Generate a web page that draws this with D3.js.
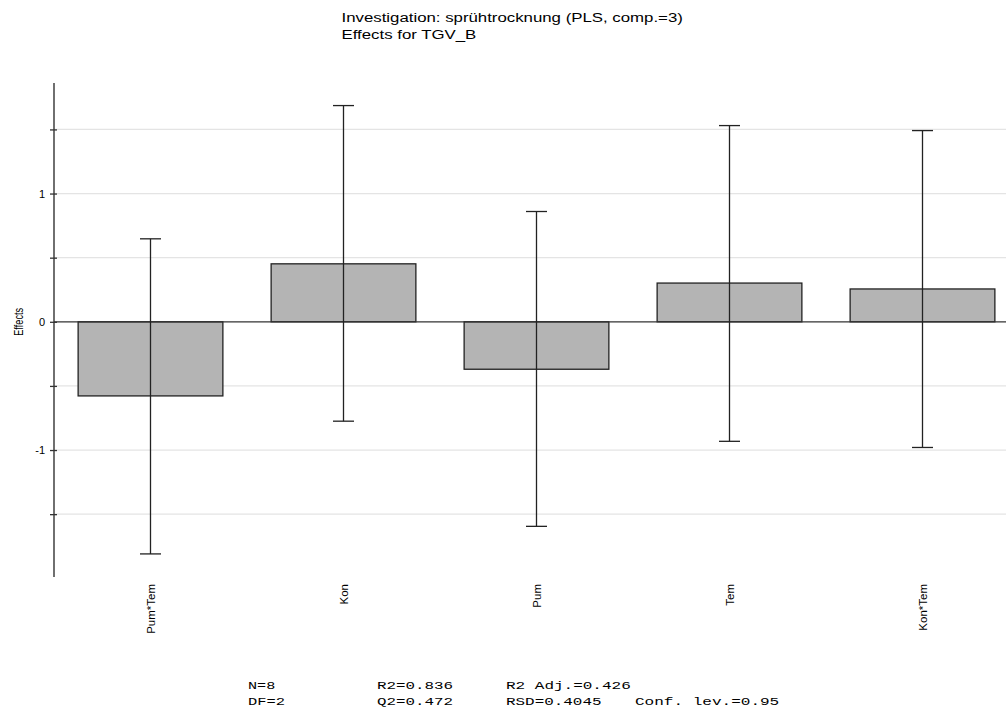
<!DOCTYPE html>
<html>
<head>
<meta charset="utf-8">
<script src="https://cdn.jsdelivr.net/npm/d3@7"></script>
<style>
  body { margin: 0; background: #fff; }
  svg { display: block; }
  text { font-family: "Liberation Sans", Arial, sans-serif; fill: #000; }
  .mono { font-family: "Liberation Mono", "Courier New", monospace; }
</style>
</head>
<body>
<div id="chart"></div>
<script>
const categories = ['Pum*Tem', 'Kon', 'Pum', 'Tem', 'Kon*Tem'];
const effects = [-0.578, 0.452, -0.370, 0.302, 0.256];
const ciLow = [-1.810, -0.775, -1.595, -0.932, -0.980];
const ciHigh = [0.647, 1.686, 0.860, 1.530, 1.491];

const majorTicks = [-1, 0, 1];
const minorTicks = [-1.5, -0.5, 0.5, 1.5];

const titleLines = ['Investigation: sprühtrocknung (PLS, comp.=3)', 'Effects for TGV_B'];
const statsRows = [
    ['N=8', 'R2=0.836', 'R2 Adj.=0.426'],
    ['DF=2', 'Q2=0.472', 'RSD=0.4045', 'Conf. lev.=0.95']
];

document.addEventListener('DOMContentLoaded', () => {
    const width = 1006, height = 711;
    const axisX = 54, top = 83, bottom = 577;

    const svg = d3.select('#chart').append('svg')
        .attr('width', width)
        .attr('height', height);

    const x = d3.scaleBand()
        .domain(categories)
        .range([axisX, 1019])
        .paddingInner(0.25)
        .paddingOuter(0.125);

    const y = d3.scaleLinear()
        .domain([-1.99, 1.862])
        .range([bottom, top]);

    // grid lines every 0.5
    svg.append('g').selectAll('line')
        .data(majorTicks.concat(minorTicks).filter(d => d !== 0))
        .enter().append('line')
        .attr('x1', axisX).attr('x2', width)
        .attr('y1', d => y(d)).attr('y2', d => y(d))
        .attr('stroke', '#e4e4e4')
        .attr('stroke-width', 1.3);

    // y axis
    const yAxis = d3.axisLeft(y)
        .tickValues(majorTicks.concat(minorTicks))
        .tickSize(4)
        .tickFormat(d => majorTicks.includes(d) ? d3.format('d')(d) : '');

    const axisG = svg.append('g')
        .attr('transform', `translate(${axisX},0)`)
        .call(yAxis);
    axisG.select('.domain').remove();
    axisG.selectAll('.tick line')
        .attr('x1', -4).attr('x2', 3)
        .attr('stroke', '#333').attr('stroke-width', 1.3);
    axisG.selectAll('.tick text')
        .attr('x', -9)
        .attr('dy', '0.35em')
        .style('font-size', '11px')
        .style('font-family', '"Liberation Sans", Arial, sans-serif')
        .text(d => majorTicks.includes(d) ? String(d).replace('−', '-') : '');

    svg.append('line')
        .attr('x1', axisX).attr('x2', axisX)
        .attr('y1', top).attr('y2', bottom)
        .attr('stroke', '#333').attr('stroke-width', 1.4);

    svg.append('text')
        .attr('transform', `translate(23,${y(0)}) rotate(-90)`)
        .attr('text-anchor', 'middle')
        .attr('textLength', 28)
        .attr('lengthAdjust', 'spacingAndGlyphs')
        .style('font-size', '12px')
        .text('Effects');

    // bars
    const data = categories.map((c, i) => ({ name: c, value: effects[i], lo: ciLow[i], hi: ciHigh[i] }));

    svg.append('g').selectAll('rect')
        .data(data)
        .enter().append('rect')
        .attr('x', d => x(d.name))
        .attr('width', x.bandwidth())
        .attr('y', d => y(Math.max(0, d.value)))
        .attr('height', d => Math.abs(y(d.value) - y(0)))
        .attr('fill', '#b4b4b4')
        .attr('stroke', '#222')
        .attr('stroke-width', 1.3);

    // zero line
    svg.append('line')
        .attr('x1', axisX).attr('x2', width)
        .attr('y1', y(0)).attr('y2', y(0))
        .attr('stroke', '#333').attr('stroke-width', 1.3);

    // error bars
    const err = svg.append('g').selectAll('g')
        .data(data)
        .enter().append('g')
        .attr('transform', d => `translate(${x(d.name) + x.bandwidth() / 2},0)`)
        .attr('stroke', '#222')
        .attr('stroke-width', 1.3);
    err.append('line')
        .attr('y1', d => y(d.lo)).attr('y2', d => y(d.hi));
    err.append('line')
        .attr('x1', -10.5).attr('x2', 10.5)
        .attr('y1', d => y(d.hi)).attr('y2', d => y(d.hi));
    err.append('line')
        .attr('x1', -10.5).attr('x2', 10.5)
        .attr('y1', d => y(d.lo)).attr('y2', d => y(d.lo));

    // category labels
    svg.append('g').selectAll('text')
        .data(categories)
        .enter().append('text')
        .attr('transform', d => `translate(${x(d) + x.bandwidth() / 2 + 4},584) rotate(-90)`)
        .attr('text-anchor', 'end')
        .style('font-size', '11.5px')
        .text(d => d);

    // title, stretched horizontally like the original
    svg.append('g').selectAll('text')
        .data(titleLines)
        .enter().append('text')
        .attr('x', 341.5)
        .attr('y', (d, i) => 22 + i * 17)
        .style('font-size', '12px')
        .text(d => d)
        .each(function () {
            const w = this.getComputedTextLength();
            d3.select(this).attr('textLength', w * 1.4).attr('lengthAdjust', 'spacingAndGlyphs');
        });

    // statistics block
    const colX = [248, 377, 506, 635];
    const charW = 9.75;
    statsRows.forEach((row, r) => {
        svg.append('g').selectAll('text')
            .data(row)
            .enter().append('text')
            .attr('class', 'mono')
            .attr('x', (d, i) => colX[i])
            .attr('y', 688.5 + r * 16.5)
            .style('font-size', '11.5px')
            .attr('textLength', d => d.length * charW - 2)
            .attr('lengthAdjust', 'spacingAndGlyphs')
            .text(d => d);
    });
});
</script>
</body>
</html>
